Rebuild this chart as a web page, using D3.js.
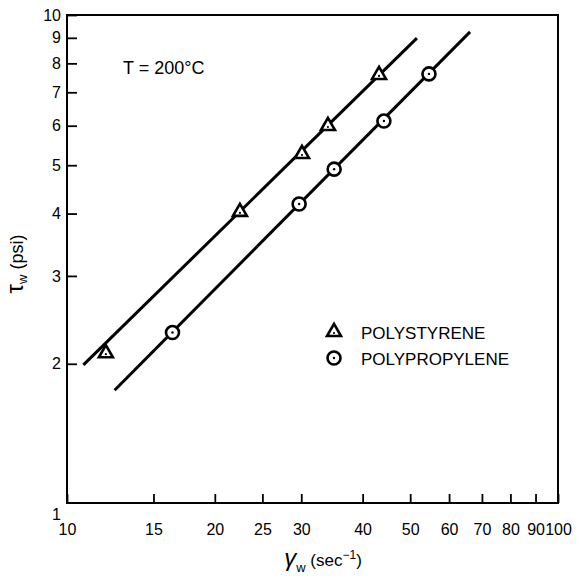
<!DOCTYPE html>
<html><head><meta charset="utf-8">
<script src="https://cdn.jsdelivr.net/npm/d3@7"></script>
<style>body{margin:0;background:#fff}</style>
</head><body>
<svg id="c" width="579" height="582"></svg>
<script>
// ---- data ----
const xTicks = [10, 15, 20, 25, 30, 40, 50, 60, 70, 80, 90, 100];
const yTicks = [1, 2, 3, 4, 5, 6, 7, 8, 9, 10];
const psShear  = [12.0, 22.5, 30.1, 34.0, 43.2];
const psStress = [2.11, 4.05, 5.29, 6.02, 7.62];
const ppShear  = [16.4, 29.7, 35.0, 44.2, 54.6];
const ppStress = [2.31, 4.18, 4.91, 6.13, 7.62];
const psFitShear  = [10.8, 51.6];
const psFitStress = [1.99, 8.99];
const ppFitShear  = [12.5, 66.2];
const ppFitStress = [1.77, 9.25];
const seriesNames = ["POLYSTYRENE", "POLYPROPYLENE"];
const annotation = "T = 200°C";

// ---- layout ----
const L = 67, R = 558, T = 15, B = 503, Y1 = 514;
const FONT = "'Liberation Sans', Arial, Helvetica, sans-serif";
const svg = d3.select("#c");
const x = d3.scaleLog().domain([10, 100]).range([L, R]);
const y = d3.scaleLog().domain([1, 10]).range([Y1, T]);

// frame
svg.append("rect").attr("x", L).attr("y", T).attr("width", R - L).attr("height", B - T)
  .attr("fill", "none").attr("stroke", "#000").attr("stroke-width", 2);

// x axis
const gx = svg.append("g").attr("transform", `translate(0,${B})`)
  .call(d3.axisBottom(x).tickValues(xTicks).tickFormat(d3.format("d")).tickSize(-9).tickPadding(21));
gx.select(".domain").remove();
gx.selectAll(".tick line").attr("stroke-width", 1.8);
gx.selectAll(".tick text").attr("font-family", FONT).attr("font-size", 16).attr("fill", "#000");

// y axis
const gy = svg.append("g").attr("transform", `translate(${L},0)`)
  .call(d3.axisLeft(y).tickValues(yTicks).tickFormat(d3.format("d")).tickSize(-10).tickPadding(6));
gy.select(".domain").remove();
gy.selectAll(".tick line").attr("stroke-width", 1.8).filter(d => d === 1).remove();
gy.selectAll(".tick text").attr("font-family", FONT).attr("font-size", 16).attr("fill", "#000");

// fit lines
const line = d3.line().x(d => x(d[0])).y(d => y(d[1]));
[[psFitShear, psFitStress], [ppFitShear, ppFitStress]].forEach(([xs, ys]) => {
  svg.append("path").datum(xs.map((v, i) => [v, ys[i]])).attr("d", line)
    .attr("fill", "none").attr("stroke", "#000").attr("stroke-width", 3);
});

// markers
const tri = d3.symbol().type(d3.symbolTriangle).size(85);
function drawTri(g, cx, cy) {
  g.append("path").attr("d", tri()).attr("transform", `translate(${cx},${cy + 1})`)
    .attr("fill", "#fff").attr("stroke", "#000").attr("stroke-width", 2.6);
  g.append("circle").attr("cx", cx).attr("cy", cy + 2).attr("r", 1.1).attr("fill", "#000");
}
function drawCirc(g, cx, cy) {
  g.append("circle").attr("cx", cx).attr("cy", cy).attr("r", 6.5)
    .attr("fill", "#fff").attr("stroke", "#000").attr("stroke-width", 2.6);
  g.append("circle").attr("cx", cx).attr("cy", cy).attr("r", 1.2).attr("fill", "#000");
}
const gm = svg.append("g");
psShear.forEach((v, i) => drawTri(gm, x(v), y(psStress[i])));
ppShear.forEach((v, i) => drawCirc(gm, x(v), y(ppStress[i])));

// legend
const lg = svg.append("g");
drawTri(lg, 334, 331);
drawCirc(lg, 334, 358);
lg.append("text").attr("x", 361).attr("y", 339).text(seriesNames[0])
  .attr("font-family", FONT).attr("font-size", 17);
lg.append("text").attr("x", 361).attr("y", 365).text(seriesNames[1])
  .attr("font-family", FONT).attr("font-size", 17);

// annotation
svg.append("text").attr("x", 123).attr("y", 74).text(annotation)
  .attr("font-family", FONT).attr("font-size", 18);

// y title
const yt = svg.append("text").attr("transform", "translate(23,264) rotate(-90)")
  .attr("text-anchor", "middle").attr("font-family", FONT).attr("font-size", 18);
yt.append("tspan").text("τ").attr("font-size", 24);
yt.append("tspan").text("w").attr("font-size", 13).attr("dy", 4);
yt.append("tspan").text(" (psi)").attr("dy", -4);

// x title
const xt = svg.append("text").attr("x", 323).attr("y", 566)
  .attr("text-anchor", "middle").attr("font-family", FONT).attr("font-size", 17);
xt.append("tspan").text("γ").attr("font-size", 24).attr("font-style", "italic");
xt.append("tspan").text("w").attr("font-size", 13).attr("dy", 6);
xt.append("tspan").text(" (sec").attr("dy", -6);
xt.append("tspan").text("−1").attr("font-size", 12).attr("dy", -7);
xt.append("tspan").text(")").attr("dy", 7);
</script>
</body></html>
